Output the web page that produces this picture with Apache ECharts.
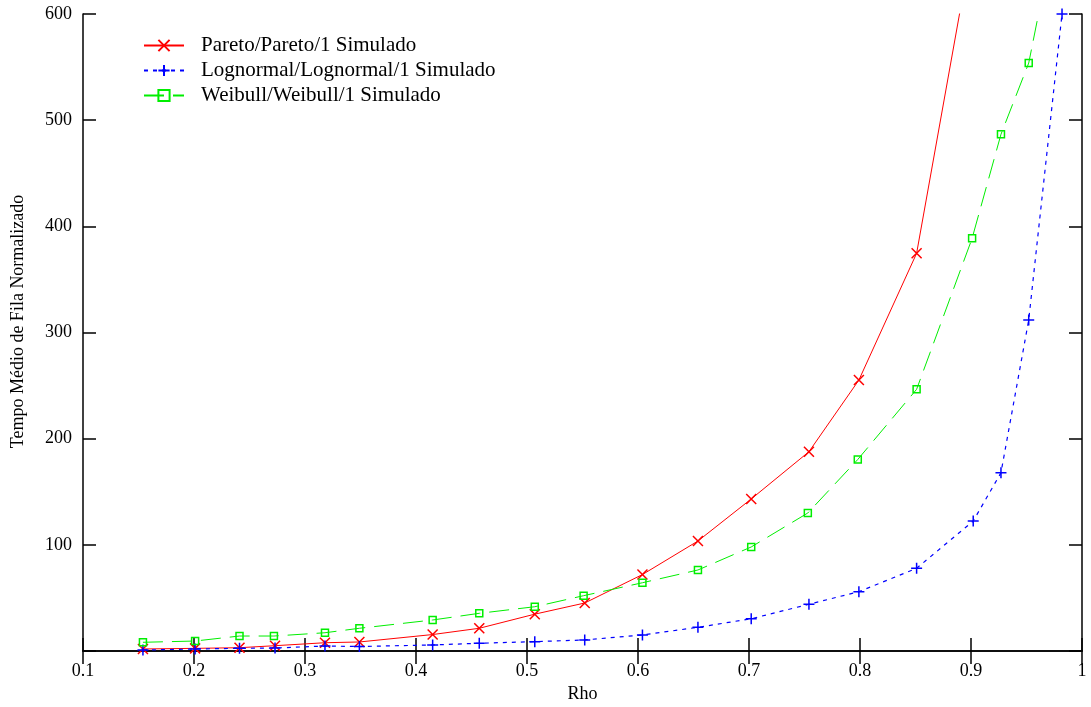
<!DOCTYPE html>
<html>
<head>
<meta charset="utf-8">
<script src="https://cdn.jsdelivr.net/npm/echarts@6/dist/echarts.min.js"></script>
<style>
html,body{margin:0;padding:0;background:#fff;}
#chart{width:1091px;height:707px;}
</style>
</head>
<body>
<div id="chart"></div>
<script>
// Rho values (x)
const rhoPareto = [0.154, 0.201, 0.241, 0.273, 0.318, 0.349, 0.415, 0.457, 0.507, 0.552, 0.604, 0.654, 0.702, 0.754, 0.799, 0.851, 0.902];
const valPareto = [1.9, 2.5, 3.1, 5.0, 7.8, 8.5, 15.5, 21.4, 34.7, 45.2, 72, 103.6, 143.2, 187.7, 255.2, 374.6, 672];

const rhoLognormal = [0.154, 0.201, 0.241, 0.273, 0.318, 0.349, 0.415, 0.457, 0.507, 0.552, 0.604, 0.654, 0.702, 0.754, 0.799, 0.851, 0.902, 0.927, 0.952, 0.982];
const valLognormal = [0.9, 1.9, 2.5, 2.8, 4.7, 4.2, 5.7, 7.3, 8.8, 10.4, 15.1, 22.3, 30.4, 44, 55.9, 77.9, 122.4, 167.9, 311.8, 600];

const rhoWeibull = [0.154, 0.201, 0.241, 0.272, 0.318, 0.349, 0.415, 0.457, 0.507, 0.551, 0.604, 0.654, 0.702, 0.753, 0.798, 0.851, 0.901, 0.927, 0.952, 0.980];
const valWeibull = [8.2, 9.4, 14.1, 14.1, 17.2, 21.4, 29.2, 35.5, 41.7, 52.1, 64.3, 76.3, 98, 130, 180.4, 246.5, 388.7, 486.7, 553.8, 700];

const seriesNames = ['Pareto/Pareto/1 Simulado', 'Lognormal/Lognormal/1 Simulado', 'Weibull/Weibull/1 Simulado'];
const xTicks = {min: 0.1, max: 1, interval: 0.1};
const yTicks = {min: 0, max: 600, interval: 100};

function pairs(xs, ys) { return ys.map((v, i) => [xs[i], v]); }

const FONT = '"Liberation Serif", "DejaVu Serif", serif';
const frameLine = {show: true, lineStyle: {color: '#000', width: 1.5}};
const tick = {show: true, inside: true, length: 13, lineStyle: {color: '#000', width: 1.5}};

const chart = echarts.init(document.getElementById('chart'), null, {renderer: 'canvas'});
chart.setOption({
  animation: false,
  backgroundColor: '#fff',
  grid: {left: 83, right: 9, top: 14, bottom: 56, containLabel: false, outerBoundsMode: 'none'},
  legend: {
    orient: 'vertical',
    left: 138,
    top: 30,
    itemWidth: 40,
    itemHeight: 14,
    itemGap: 4,
    textStyle: {fontFamily: FONT, fontSize: 21, lineHeight: 20, color: '#000', padding: [0, 0, 0, 12]},
    data: seriesNames
  },
  xAxis: [
    {
      type: 'value', position: 'bottom', min: xTicks.min, max: xTicks.max, interval: xTicks.interval,
      name: 'Rho', nameLocation: 'middle', nameGap: 34,
      nameTextStyle: {fontFamily: FONT, fontSize: 18, color: '#000'},
      axisLine: frameLine, axisTick: tick, splitLine: {show: false},
      axisLabel: {fontFamily: FONT, fontSize: 18, color: '#000', margin: 11,
        formatter: v => (Math.round(v * 10) / 10).toString()}
    },
    {
      type: 'value', position: 'top', min: xTicks.min, max: xTicks.max, interval: xTicks.interval,
      axisLine: frameLine, axisTick: tick, splitLine: {show: false}, axisLabel: {show: false}
    }
  ],
  yAxis: [
    {
      type: 'value', position: 'left', min: yTicks.min, max: yTicks.max, interval: yTicks.interval,
      name: 'Tempo Médio de Fila Normalizado', nameLocation: 'middle', nameGap: 56,
      nameTextStyle: {fontFamily: FONT, fontSize: 18, color: '#000', padding: [0, 0, 0, 22]},
      axisLine: frameLine, axisTick: tick, splitLine: {show: false},
      axisLabel: {fontFamily: FONT, fontSize: 18, color: '#000', margin: 11,
        formatter: v => v === 0 ? '' : String(v)}
    },
    {
      type: 'value', position: 'right', min: yTicks.min, max: yTicks.max, interval: yTicks.interval,
      axisLine: frameLine, axisTick: tick, splitLine: {show: false}, axisLabel: {show: false}
    }
  ],
  series: [
    {
      name: seriesNames[0], type: 'line', xAxisIndex: 0, yAxisIndex: 0,
      data: pairs(rhoPareto, valPareto), clip: true,
      symbol: 'path://M0,0L10,10M10,0L0,10', symbolSize: 10,
      itemStyle: {color: 'none', borderColor: '#ff0000', borderWidth: 1.5},
      lineStyle: {color: '#ff0000', width: 1, type: 'solid'}
    },
    {
      name: seriesNames[1], type: 'line', xAxisIndex: 0, yAxisIndex: 0,
      data: pairs(rhoLognormal, valLognormal), clip: true,
      symbol: 'path://M5,0L5,10M0,5L10,5', symbolSize: 11,
      itemStyle: {color: 'none', borderColor: '#0000ff', borderWidth: 1.5},
      lineStyle: {color: '#0000ff', width: 1.2, type: [4, 5]}
    },
    {
      name: seriesNames[2], type: 'line', xAxisIndex: 0, yAxisIndex: 0,
      data: pairs(rhoWeibull, valWeibull), clip: true,
      symbol: 'path://M0,0L10,0L10,10L0,10Z', symbolSize: 7,
      itemStyle: {color: 'none', borderColor: '#00ee00', borderWidth: 1.5},
      lineStyle: {color: '#00ee00', width: 1, type: [20, 9]}
    }
  ]
});
</script>
</body>
</html>
